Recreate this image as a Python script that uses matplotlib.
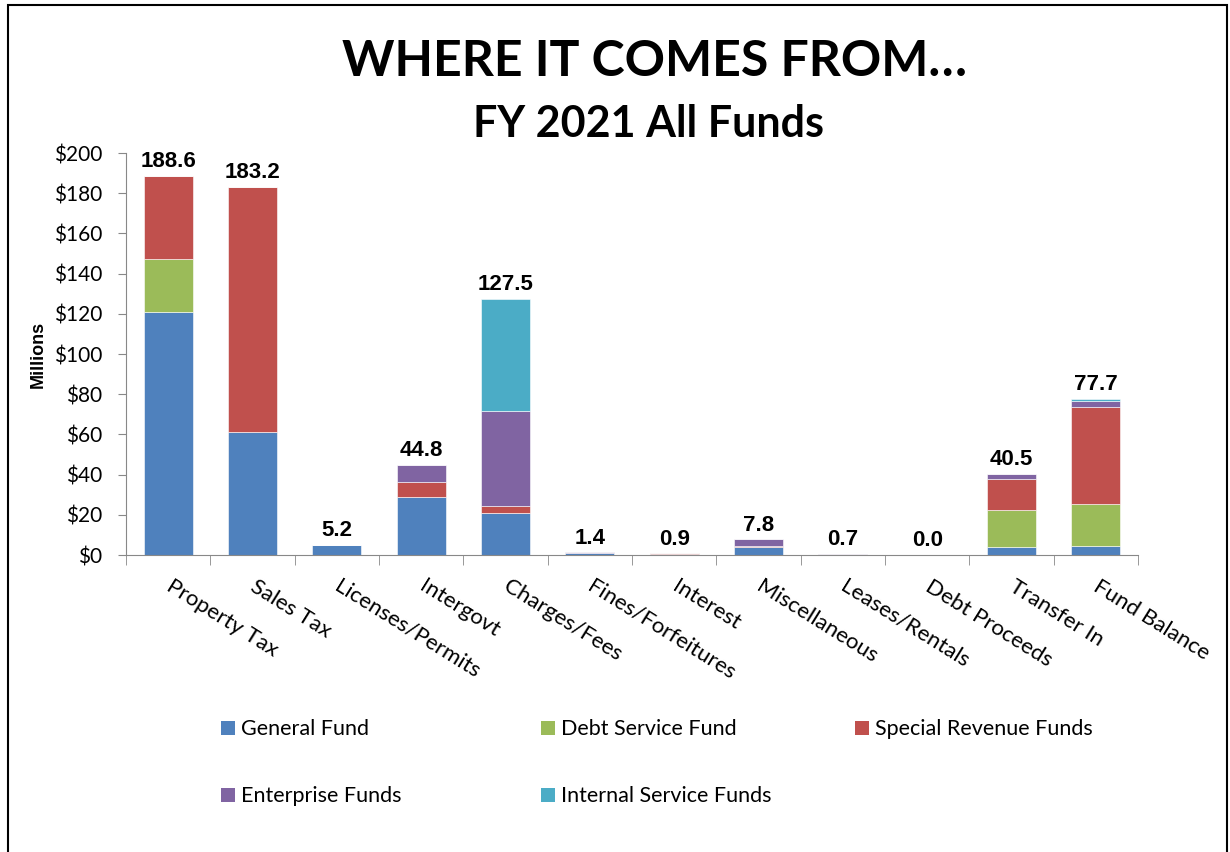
import matplotlib
matplotlib.use("Agg")
import matplotlib.pyplot as plt
import numpy as np
from matplotlib.patches import Rectangle

categories = ["Property Tax", "Sales Tax", "Licenses/Permits", "Intergovt", "Charges/Fees",
              "Fines/Forfeitures", "Interest", "Miscellaneous", "Leases/Rentals",
              "Debt Proceeds", "Transfer In", "Fund Balance"]
general_fund     = [120.7, 61.2, 4.9, 29.0, 20.7, 1.1, 0.5, 4.1, 0.2, 0.0, 4.1, 4.5]
debt_service     = [26.6, 0.0, 0.0, 0.0, 0.0, 0.0, 0.1, 0.0, 0.0, 0.0, 18.3, 20.7]
special_revenue  = [41.3, 122.0, 0.3, 7.2, 3.7, 0.1, 0.2, 0.5, 0.0, 0.0, 15.4, 48.3]
enterprise       = [0.0, 0.0, 0.0, 8.6, 47.4, 0.2, 0.1, 3.2, 0.5, 0.0, 2.7, 3.3]
internal_service = [0.0, 0.0, 0.0, 0.0, 55.7, 0.0, 0.0, 0.0, 0.0, 0.0, 0.0, 0.9]
totals = [188.6, 183.2, 5.2, 44.8, 127.5, 1.4, 0.9, 7.8, 0.7, 0.0, 40.5, 77.7]
yticks = [0, 20, 40, 60, 80, 100, 120, 140, 160, 180, 200]

series = [("General Fund", general_fund, "#4F81BD"),
          ("Debt Service Fund", debt_service, "#9BBB59"),
          ("Special Revenue Funds", special_revenue, "#C0504D"),
          ("Enterprise Funds", enterprise, "#8064A2"),
          ("Internal Service Funds", internal_service, "#4BACC6")]

W, H = 1230, 852
fig = plt.figure(figsize=(W / 100, H / 100), dpi=100)

# outer frame
fig.add_artist(Rectangle((8 / W, -0.01), (1227 - 8) / W, (H - 5) / H + 0.01,
                         transform=fig.transFigure, fill=False, edgecolor="black", linewidth=1.5))

ax = fig.add_axes([126 / W, 1 - 555 / H, (1138 - 126) / W, (555 - 153) / H])
x = np.arange(len(categories))
bottom = np.zeros(len(categories))
handles = []
for name, vals, col in series:
    vals = np.array(vals)
    ax.bar(x, vals, 0.58, bottom=bottom, color=col, edgecolor="#ffffff", linewidth=0.4, label=name)
    handles.append((Rectangle((0, 0), 1, 1, facecolor=col), name))
    bottom += vals

for xi, t in zip(x, totals):
    ax.text(xi, t + 1.8, f"{t:.1f}", ha="center", va="bottom", fontsize=16, fontweight="bold",
            family="Liberation Sans")

ax.set_xlim(-0.5, len(categories) - 0.5)
ax.set_ylim(0, 200)
ax.set_yticks(yticks)
ax.set_yticklabels([f"${v}" for v in yticks], family="Lato", fontsize=15)
ax.set_xticks([])
ax.set_xticks(np.arange(-0.5, len(categories)), minor=True)
ax.tick_params(axis="x", which="minor", length=7, color="#888888")
ax.tick_params(axis="y", length=6, color="#888888", pad=11)
for s in ["top", "right"]:
    ax.spines[s].set_visible(False)
for s in ["left", "bottom"]:
    ax.spines[s].set_color("#888888")
ax.set_ylabel("Millions", fontsize=13, fontweight="bold", family="Liberation Sans", labelpad=5)

for xi, c in zip(x, categories):
    ax.text(xi + 0.06, -10.5, c, rotation=-32, rotation_mode="anchor", ha="left", va="top",
            fontsize=16, family="Lato")

fig.text(655 / W, 1 - 62 / H, "WHERE IT COMES FROM…", ha="center", va="center",
         fontsize=36, fontweight="bold", family="Lato")
fig.text(649 / W, 1 - 124 / H, "FY 2021 All Funds", ha="center", va="center",
         fontsize=31, fontweight="bold", family="Lato")

cols = [[handles[0], handles[3]], [handles[1], handles[4]], [handles[2]]]
xs = [202, 522, 836]
for xc, col in zip(xs, cols):
    fig.legend([h for h, _ in col], [n for _, n in col], loc="upper left",
               bbox_to_anchor=(xc / W, 1 - 700 / H), frameon=False, ncol=1,
               handlelength=0.65, handleheight=0.65, handletextpad=0.25, labelspacing=2.18,
               prop={"family": "Lato", "size": 15.5})

fig.savefig("out.png", dpi=100)
